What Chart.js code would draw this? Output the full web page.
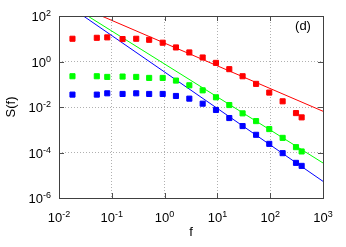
<!DOCTYPE html>
<html>
<head>
<meta charset="utf-8">
<script src="https://cdn.jsdelivr.net/npm/chart.js@4/dist/chart.umd.min.js"></script>
<style>
  html, body { margin: 0; padding: 0; background: #fff; }
  canvas { display: block; }
</style>
</head>
<body>
<canvas id="spectrumChart" width="346" height="247"></canvas>
<script>
// ==================== DATA ====================
const freq   = [0.018, 0.052, 0.082, 0.16, 0.29, 0.51, 0.92, 1.64, 2.94, 5.26, 9.4, 16.8, 30, 54, 96, 172, 308, 394];
const redS   = [10, 11, 11.5, 9.7, 10, 9.0, 6.7, 4.15, 2.5, 1.5, 0.87, 0.46, 0.225, 0.104, 0.043, 0.0178, 0.0054, 0.0035];
const greenS = [0.225, 0.225, 0.21, 0.218, 0.21, 0.19, 0.19, 0.145, 0.09, 0.054, 0.0267, 0.0122, 0.00526, 0.0024, 0.00107, 0.00044, 0.000172, 0.000111];
const blueS  = [0.035, 0.035, 0.04, 0.0375, 0.04, 0.0375, 0.0375, 0.0305, 0.0233, 0.014, 0.0074, 0.00327, 0.00145, 0.0006, 0.00024, 0.0000935, 0.000035, 0.0000258];

// power-law fit lines (two end points each)
const redFitF   = [0.064, 1000];
const redFitS   = [100, 0.0065];
const greenFitF = [0.035, 1000];
const greenFitS = [100, 0.0000347];
const blueFitF  = [0.029, 1000];
const blueFitS  = [100, 0.0000054];

const xTicks = [0.01, 0.1, 1, 10, 100, 1000];
const yTicks = [1e-6, 1e-4, 1e-2, 1, 100];

const FONT = '"Liberation Sans", Arial, sans-serif';

function toPoints(xs, ys) {
    return xs.map((x, i) => ({ x: x, y: ys[i] }));
}

// draws "10" with a superscript exponent
function drawPow(ctx, value, x, y, align) {
    const exp = String(Math.round(Math.log10(value)));
    ctx.font = '13px ' + FONT;
    const wb = ctx.measureText('10').width;
    ctx.font = '9px ' + FONT;
    const ws = ctx.measureText(exp).width;
    const left = align === 'right' ? x - wb - ws : x - (wb + ws) / 2;
    ctx.textAlign = 'left';
    ctx.textBaseline = 'alphabetic';
    ctx.font = '13px ' + FONT;
    ctx.fillText('10', left, y);
    ctx.font = '9px ' + FONT;
    ctx.fillText(exp, left + wb, y - 5);
}

// gnuplot-like frame: border, inward ticks, tick labels, titles
const gnuplotFrame = {
    id: 'gnuplotFrame',
    afterDraw(chart) {
        const ctx = chart.ctx;
        const a = chart.chartArea;
        const xs = chart.scales.x;
        const ys = chart.scales.y;
        ctx.save();

        ctx.strokeStyle = '#505050';
        ctx.lineWidth = 1;
        const tl = 5;
        ctx.beginPath();
        xTicks.forEach(v => {
            const px = Math.round(xs.getPixelForValue(v)) + 0.5;
            ctx.moveTo(px, a.bottom); ctx.lineTo(px, a.bottom - tl);
            ctx.moveTo(px, a.top); ctx.lineTo(px, a.top + tl);
        });
        yTicks.forEach(v => {
            const py = Math.round(ys.getPixelForValue(v)) + 0.5;
            ctx.moveTo(a.left, py); ctx.lineTo(a.left + tl, py);
            ctx.moveTo(a.right, py); ctx.lineTo(a.right - tl, py);
        });
        ctx.stroke();

        ctx.strokeStyle = '#404040';
        ctx.strokeRect(Math.round(a.left) + 0.5, Math.round(a.top) + 0.5,
                       Math.round(a.right - a.left), Math.round(a.bottom - a.top));

        ctx.fillStyle = '#000';
        xTicks.forEach(v => drawPow(ctx, v, xs.getPixelForValue(v), a.bottom + 24, 'center'));
        yTicks.forEach(v => drawPow(ctx, v, a.left - 8, ys.getPixelForValue(v) + 5, 'right'));

        ctx.font = '13px ' + FONT;
        ctx.textAlign = 'center';
        ctx.textBaseline = 'alphabetic';
        ctx.fillText('f', (a.left + a.right) / 2, 236);
        ctx.fillText('(d)', 303, 30);

        ctx.translate(15, (a.top + a.bottom) / 2);
        ctx.rotate(-Math.PI / 2);
        ctx.fillText('S(f)', 0, 0);
        ctx.restore();
    }
};

// ==================== CHART ====================
const ctx = document.getElementById('spectrumChart').getContext('2d');

const markerStyle = { showLine: false, pointStyle: 'rect', pointRadius: 3.6, borderWidth: 1 };
const fitStyle = { showLine: true, pointRadius: 0, borderWidth: 1 };

new Chart(ctx, {
    type: 'scatter',
    data: {
        datasets: [
            Object.assign({ data: toPoints(freq, redS), backgroundColor: '#ff0000', borderColor: '#ff0000' }, markerStyle),
            Object.assign({ data: toPoints(freq, greenS), backgroundColor: '#00ff00', borderColor: '#00ff00' }, markerStyle),
            Object.assign({ data: toPoints(freq, blueS), backgroundColor: '#0000ff', borderColor: '#0000ff' }, markerStyle),
            Object.assign({ data: toPoints(redFitF, redFitS), borderColor: '#ff0000' }, fitStyle),
            Object.assign({ data: toPoints(greenFitF, greenFitS), borderColor: '#00ff00' }, fitStyle),
            Object.assign({ data: toPoints(blueFitF, blueFitS), borderColor: '#0000ff' }, fitStyle)
        ]
    },
    options: {
        responsive: false,
        animation: false,
        events: [],
        layout: { padding: { left: 59, right: 23, top: 16, bottom: 49 } },
        scales: {
            x: {
                type: 'logarithmic',
                min: 0.01,
                max: 1000,
                afterBuildTicks: scale => { scale.ticks = xTicks.map(v => ({ value: v })); },
                ticks: { display: false },
                grid: { color: '#b0b0b0', drawTicks: false, tickLength: 0 },
                border: { display: false, dash: [1, 2] }
            },
            y: {
                type: 'logarithmic',
                min: 1e-6,
                max: 100,
                afterBuildTicks: scale => { scale.ticks = yTicks.map(v => ({ value: v })); },
                ticks: { display: false },
                grid: { color: '#b0b0b0', drawTicks: false, tickLength: 0 },
                border: { display: false, dash: [1, 2] }
            }
        },
        plugins: {
            legend: { display: false },
            tooltip: { enabled: false }
        }
    },
    plugins: [gnuplotFrame]
});
</script>
</body>
</html>
